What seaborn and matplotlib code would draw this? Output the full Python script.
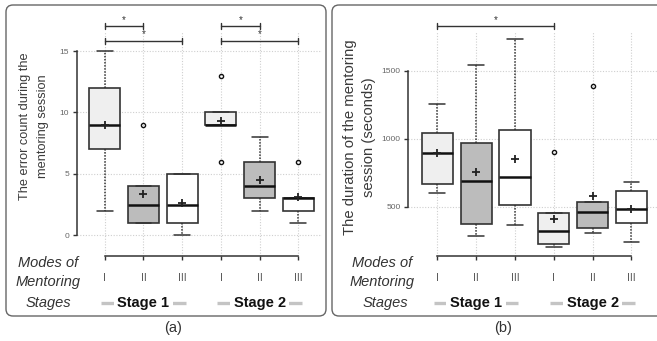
import numpy as np
import pandas as pd
import matplotlib
matplotlib.use("Agg")
import matplotlib.pyplot as plt
import matplotlib.transforms as mtrans
from matplotlib.patches import FancyBboxPatch
import seaborn as sns

# ---------------- data ----------------
modes = ["I", "II", "III", "I", "II", "III"]
stage_names = ["Stage 1", "Stage 2"]
fills = ["#efefef", "#bcbcbc", "#ffffff", "#efefef", "#bcbcbc", "#ffffff"]

# (a) error count during the mentoring session
err_whislo = [2, 1, 0, 9, 2, 1]
err_q1 = [7, 1, 1, 9, 3, 2]
err_med = [9, 2.5, 2.5, 9, 4, 3]
err_q3 = [12, 4, 5, 10, 6, 3]
err_whishi = [15, 4, 5, 10, 8, 3]
err_mean = [9.0, 3.33, 2.67, 9.33, 4.47, 3.1]
err_fliers = [[], [9], [], [13, 6], [], [6]]
err_ticks = [0, 5, 10, 15]
err_sig = [(0, 1, 17.0), (0, 2, 15.85), (3, 4, 17.0), (3, 5, 15.85)]

# (b) duration of the mentoring session (seconds)
dur_whislo = [599, 282, 365, 203, 304, 238]
dur_q1 = [667, 375, 510, 225, 341, 380]
dur_med = [893, 689, 717, 323, 459, 485]
dur_q3 = [1043, 969, 1063, 456, 535, 616]
dur_whishi = [1259, 1544, 1736, 456, 535, 682]
dur_mean = [898, 756, 852, 407, 581, 483]
dur_fliers = [[], [], [], [901], [1387], []]
dur_ticks = [500, 1000, 1500]
dur_sig = [(0, 3, 1832)]

# ---------------- style ----------------
sns.set_style("white")
plt.rcParams["font.family"] = ["Liberation Sans", "DejaVu Sans"]
DARK = "#333333"

W, H = 657, 341
fig = plt.figure(figsize=(W / 100, H / 100), dpi=100)

pos = np.arange(6)


def make_stats(lo, q1, med, q3, hi, fl):
    return [dict(whislo=a, q1=b, med=c, q3=d, whishi=e, fliers=f, label=m)
            for a, b, c, d, e, f, m in zip(lo, q1, med, q3, hi, fl, modes)]


def panel(rect, stats, means, ticks, ylim, xlim, sig):
    ax = fig.add_axes(rect)
    ax.set_facecolor("none")
    ax.set_xlim(*xlim)
    ax.set_ylim(*ylim)
    bp = ax.bxp(stats, positions=pos, widths=0.8, capwidths=0.41,
                patch_artist=True, showfliers=True,
                boxprops=dict(edgecolor=DARK, linewidth=1.2),
                medianprops=dict(color="#111111", linewidth=1.8),
                whiskerprops=dict(color=DARK, linewidth=1.1, linestyle=(0, (1, 1))),
                capprops=dict(color=DARK, linewidth=1.1),
                flierprops=dict(marker="o", markersize=3.0, markerfacecolor="none",
                                markeredgecolor="#111111", markeredgewidth=1.0))
    for patch, c in zip(bp["boxes"], fills):
        patch.set_facecolor(c)
        patch.set_zorder(2)
    df = pd.DataFrame({"pos": pos, "mean": means})
    sns.scatterplot(data=df, x="pos", y="mean", marker="+", s=40, color="#222222",
                    linewidth=1.3, ax=ax, zorder=6, legend=False)
    ax.set_xlabel("")
    ax.set_ylabel("")
    ax.set_xticks(pos)
    ax.set_xticklabels(modes)
    ax.set_yticks(ticks)
    ax.set_yticklabels([str(t) for t in ticks])
    ax.grid(True, linestyle=(0, (1, 1.5)), color="#cfcfcf", linewidth=0.8)
    ax.set_axisbelow(True)
    for s in ["top", "right"]:
        ax.spines[s].set_visible(False)
    for s in ["left", "bottom"]:
        ax.spines[s].set_color(DARK)
        ax.spines[s].set_linewidth(1.1)
    ax.spines["left"].set_bounds(ticks[0], ticks[-1])
    ax.spines["bottom"].set_bounds(pos[0], pos[-1])
    ax.tick_params(axis="y", direction="out", length=3, width=1.0, color=DARK,
                   labelsize=6, labelcolor="#666666", pad=2.5, left=True)
    ax.tick_params(axis="x", direction="out", length=3.2, width=1.0, color=DARK,
                   labelsize=7.5, labelcolor="#555555", pad=9, bottom=True)
    # significance brackets
    hpx = rect[3] * H
    dy = 3 * (ylim[1] - ylim[0]) / hpx
    for a, b, lvl in sig:
        ax.plot([a, b], [lvl, lvl], color=DARK, lw=1.0, clip_on=False, zorder=5)
        for xx in (a, b):
            ax.plot([xx, xx], [lvl - dy, lvl + dy], color=DARK, lw=1.0,
                    clip_on=False, zorder=5)
        ax.text((a + b) / 2, lvl + dy * 0.4, "*", ha="center", va="bottom",
                fontsize=7, color=DARK, clip_on=False)
    return ax


bottom = 85 / H
height = (309 - 85) / H
# panel a: pos0 at 104.8 px, step 38.73 px
ax_a = panel([76.9 / W, bottom, (322 - 76.9) / W, height],
             make_stats(err_whislo, err_q1, err_med, err_q3, err_whishi, err_fliers),
             err_mean, err_ticks, (-1.68, 16.55), (-0.72, 5.61), err_sig)
# panel b: pos0 at 437.3 px, step 38.84 px
ax_b = panel([408.3 / W, bottom, (657 - 408.3) / W, height],
             make_stats(dur_whislo, dur_q1, dur_med, dur_q3, dur_whishi, dur_fliers),
             dur_mean, dur_ticks, (137, 1787), (-0.747, 5.657), dur_sig)

# overlay in pixel coordinates
ov = fig.add_axes([0, 0, 1, 1], zorder=10)
ov.set_xlim(0, W)
ov.set_ylim(H, 0)
ov.axis("off")
ov.set_facecolor("none")

for x0, x1 in [(6, 326), (332, 670)]:
    ov.add_patch(FancyBboxPatch((x0, 5), x1 - x0, 311,
                                boxstyle="round,pad=0,rounding_size=7",
                                fill=False, edgecolor="#666666", linewidth=1.0))

ov.text(173, 328, "(a)", ha="center", va="center", fontsize=10.5, color=DARK)
ov.text(503, 328, "(b)", ha="center", va="center", fontsize=10.5, color=DARK)

# y-axis titles
LBL = "#3a3a3a"
ov.text(25, 126, "The error count during the", rotation=90, ha="center",
        va="center", fontsize=9.2, color=LBL)
ov.text(43, 126, "mentoring session", rotation=90, ha="center",
        va="center", fontsize=9.2, color=LBL)
ov.text(350, 137, "The duration of the mentoring", rotation=90, ha="center",
        va="center", fontsize=10.7, color=LBL)
ov.text(369, 137, "session (seconds)", rotation=90, ha="center",
        va="center", fontsize=10.7, color=LBL)

for cx, (m1, m2, st) in [(48, (48, 48.5, 48)), (382, (382.5, 382, 385))]:
    ov.text(m1, 263, "Modes of", ha="center", va="center", fontsize=10.5,
            style="italic", color=DARK)
    ov.text(m2, 282, "Mentoring", ha="center", va="center", fontsize=10.5,
            style="italic", color=DARK)
    ov.text(st, 303, "Stages", ha="center", va="center", fontsize=10.5,
            style="italic", color=DARK)

for ax in (ax_a, ax_b):
    tr = mtrans.blended_transform_factory(ax.transData, ov.transData)
    for k, name in enumerate(stage_names):
        mid = pos[3 * k + 1]
        ov.plot([mid - 1.09, mid + 1.09], [303, 303], color="#c4c4c4", lw=2.4,
                solid_capstyle="butt", transform=tr, zorder=1)
        ov.text(mid, 303, name, ha="center", va="center", fontsize=10.5,
                fontweight="bold", color="#111111", transform=tr, zorder=2,
                bbox=dict(boxstyle="square,pad=0.25", facecolor="white",
                          edgecolor="none"))

fig.savefig("out.png", dpi=100)
